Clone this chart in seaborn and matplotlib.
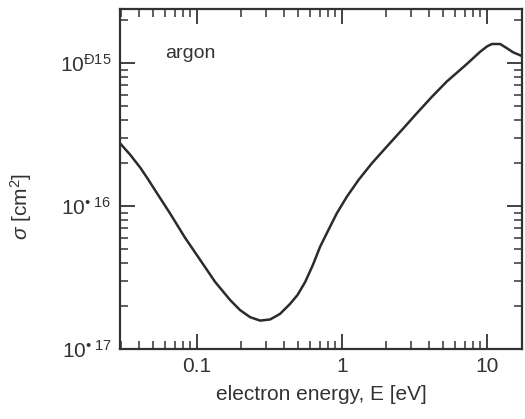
import matplotlib
matplotlib.use("Agg")
import matplotlib.pyplot as plt
from matplotlib.ticker import FixedLocator, FixedFormatter, LogLocator, NullFormatter
import numpy as np
import pandas as pd
import seaborn as sns

# Momentum-transfer cross section of argon (Ramsauer minimum)
energy_ev = [0.0294, 0.0345, 0.0405, 0.0456, 0.0513, 0.065, 0.0826, 0.105,
             0.133, 0.169, 0.198, 0.232, 0.272, 0.319, 0.373, 0.438, 0.493,
             0.556, 0.628, 0.705, 0.804, 0.919, 1.077, 1.296, 1.603, 2.03,
             2.58, 3.27, 4.16, 5.27, 6.2, 7.28, 8.95, 10.0, 10.8, 12.3, 13.7,
             15.1, 17.4]
sigma_cm2 = [2.75e-16, 2.29e-16, 1.86e-16, 1.556e-16, 1.29e-16, 8.9e-17,
             6.0e-17, 4.2e-17, 2.95e-17, 2.2e-17, 1.87e-17, 1.67e-17, 1.58e-17,
             1.61e-17, 1.76e-17, 2.07e-17, 2.39e-17, 2.94e-17, 3.86e-17,
             5.19e-17, 6.79e-17, 8.89e-17, 1.16e-16, 1.52e-16, 1.99e-16,
             2.60e-16, 3.40e-16, 4.45e-16, 5.81e-16, 7.43e-16, 8.58e-16, 9.9e-16,
             1.20e-15, 1.31e-15, 1.36e-15, 1.36e-15, 1.27e-15, 1.19e-15,
             1.12e-15]

x_ticks = [0.1, 1, 10]
x_tick_labels = ["0.1", "1", "10"]
y_ticks = [1e-17, 1e-16, 1e-15]
y_tick_labels = [r"10$^{\mathrm{•}\ 17}$", r"10$^{\mathrm{•}\ 16}$", r"10$^{\mathrm{Ð15}}$"]

sns.set_theme(style="white")
ink = "#333333"
plt.rcParams.update({
    "font.family": ["Liberation Sans", "DejaVu Sans"],
    "mathtext.fontset": "custom",
    "mathtext.rm": "Liberation Sans",
    "mathtext.it": "Liberation Sans:italic",
    "mathtext.bf": "Liberation Sans:bold",
    "text.color": ink,
    "axes.labelcolor": ink,
    "xtick.color": ink,
    "ytick.color": ink,
})

df = pd.DataFrame({"E": energy_ev, "sigma": sigma_cm2})

fig = plt.figure(figsize=(5.25, 4.19), dpi=100)
ax = fig.add_axes([120 / 525, 1 - 349 / 419, 402 / 525, 340 / 419])

sns.lineplot(data=df, x="E", y="sigma", ax=ax, color="#2b2b2b", linewidth=1.8)
ax.lines[0].set_solid_joinstyle("round")

ax.set_xscale("log")
ax.set_yscale("log")
ax.set_xlim(0.0294, 17.4)
ax.set_ylim(1e-17, 2.39e-15)

for side in ax.spines.values():
    side.set_color(ink)
    side.set_linewidth(1.6)

ax.xaxis.set_major_locator(FixedLocator(x_ticks))
ax.xaxis.set_major_formatter(FixedFormatter(x_tick_labels))
ax.yaxis.set_major_locator(FixedLocator(y_ticks))
ax.yaxis.set_major_formatter(FixedFormatter(y_tick_labels))
ax.xaxis.set_minor_locator(LogLocator(base=10, subs=np.arange(2, 10), numticks=20))
ax.yaxis.set_minor_locator(LogLocator(base=10, subs=np.arange(2, 10), numticks=20))
ax.xaxis.set_minor_formatter(NullFormatter())
ax.yaxis.set_minor_formatter(NullFormatter())

ax.tick_params(which="both", direction="in", top=True, right=True,
               bottom=True, left=True, color=ink)
ax.tick_params(which="major", length=11, width=1.3, labelsize=15, pad=6)
ax.tick_params(which="minor", length=5.5, width=1.1)

ax.set_xlabel("electron energy, E [eV]", fontsize=15, labelpad=6)
ax.set_ylabel(r"$\sigma$ [cm$^{2}$]", fontsize=15, labelpad=14)
ax.yaxis.set_label_coords(-0.215, 0.42)

ax.text(0.112, 0.856, "argon", transform=ax.transAxes, fontsize=14,
        ha="left", va="baseline", color=ink)

fig.savefig("out.png", dpi=100, facecolor="white")
